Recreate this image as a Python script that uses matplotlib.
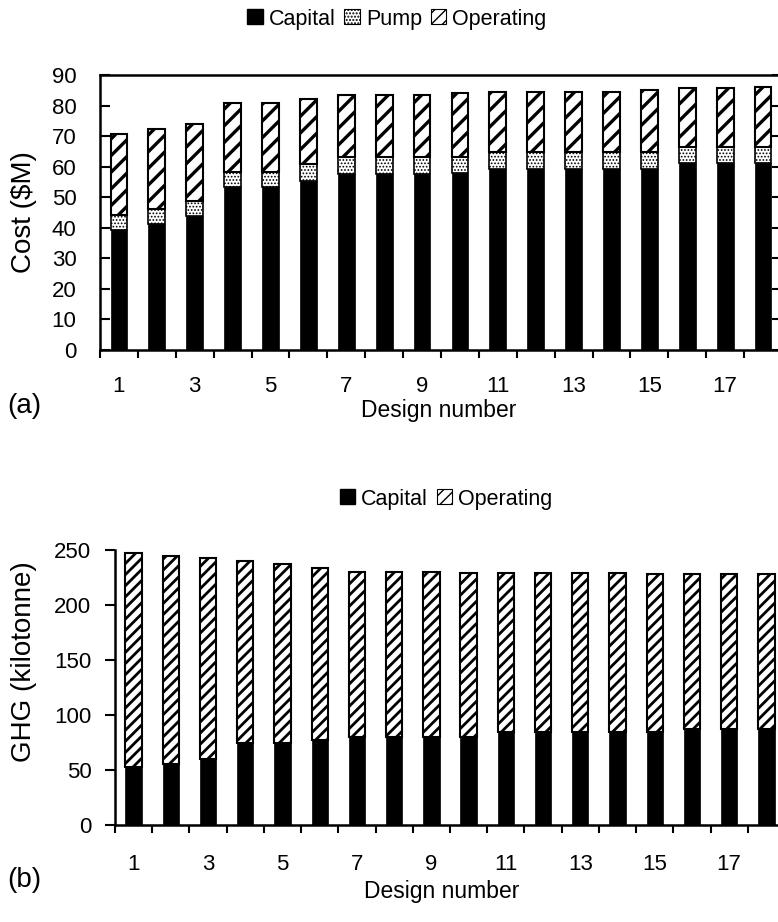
import numpy as np
import matplotlib
matplotlib.use("Agg")
import matplotlib.pyplot as plt
from matplotlib.patches import Patch

plt.rcParams['font.family'] = ['Liberation Sans', 'DejaVu Sans']
plt.rcParams['font.size'] = 16

# design numbers 1..18
designs = np.arange(1, 19)
odd_labels = [str(d) for d in designs if d % 2 == 1]

# (a) cost breakdown, $M
cost_capital = [39.3, 41.4, 43.9, 53.3, 53.3, 55.4, 57.6, 57.6, 57.6, 58.0,
                59.4, 59.4, 59.4, 59.4, 59.4, 61.1, 61.1, 61.1]
cost_pump = [4.8, 4.8, 5.0, 5.1, 5.1, 5.5, 5.7, 5.7, 5.7, 5.3,
             5.5, 5.5, 5.5, 5.5, 5.5, 5.2, 5.2, 5.2]
cost_operating = [26.6, 26.2, 25.0, 22.5, 22.5, 21.4, 20.3, 20.3, 20.3, 20.7,
                  19.6, 19.6, 19.6, 19.6, 20.2, 19.3, 19.3, 19.7]

# (b) greenhouse gas emissions, kilotonne
ghg_capital = [52.4, 55.5, 59.7, 74.5, 74.5, 77.3, 80.3, 80.3, 80.3, 80.3,
               84.5, 84.5, 84.5, 84.5, 84.5, 87.6, 87.6, 87.6]
ghg_operating = [194.6, 189.0, 182.7, 165.2, 162.5, 156.6, 149.4, 149.4, 149.4, 149.1,
                 144.9, 144.9, 144.9, 144.9, 143.4, 140.3, 140.3, 140.3]

W, H = 778, 922
fig = plt.figure(figsize=(W / 100, H / 100), dpi=100)


def px_axes(left, top, right, bottom):
    return fig.add_axes([left / W, (H - bottom) / H, (right - left) / W, (bottom - top) / H])


def hatch_width(patches, lw):
    for p in patches:
        if hasattr(p, 'set_hatch_linewidth'):
            p.set_hatch_linewidth(lw)


def odd_ticks(ax, label_pad):
    # ticks on category boundaries, labels on every other bar
    ax.set_xlim(0.5, 18.5)
    ax.set_xticks(np.arange(0.5, 19, 1))
    ax.set_xticklabels([])
    ax.set_xticks(designs[::2], minor=True)
    ax.set_xticklabels(odd_labels, minor=True)
    ax.tick_params(axis='x', which='major', direction='out', length=6, width=1.5)
    ax.tick_params(axis='x', which='minor', length=0, pad=label_pad)


bar_w = 0.44
big = 20

# ---- (a) cost ----
ax1 = px_axes(100, 75, 782, 350)
ax1.bar(designs, cost_capital, bar_w, color='black', edgecolor='black', linewidth=0.5)
with plt.rc_context({'hatch.linewidth': 0.8}):
    pb = ax1.bar(designs, cost_pump, bar_w, bottom=cost_capital, color='white',
                 edgecolor='black', linewidth=1.2, hatch='.....')
hatch_width(pb, 0.8)
bottom_op = np.array(cost_capital) + np.array(cost_pump)
with plt.rc_context({'hatch.linewidth': 2.4}):
    ob = ax1.bar(designs, cost_operating, bar_w, bottom=bottom_op, color='white',
                 edgecolor='black', linewidth=1.5, hatch='//')
hatch_width(ob, 2.4)
ax1.set_ylim(0, 90)
ax1.set_yticks(np.arange(0, 91, 10))
odd_ticks(ax1, 19)
ax1.tick_params(axis='y', direction='in', length=7, width=1.5, right=True, pad=17)
for s in ax1.spines.values():
    s.set_linewidth(1.8)
ax1.set_ylabel('Cost ($M)', fontsize=big)
ax1.yaxis.set_label_coords(-0.092, 0.5)
ax1.set_xlabel('Design number', fontsize=16.5)
ax1.xaxis.set_label_coords(0.497, -0.178)
fig.text(7 / W, (H - 406) / H, '(a)', va='center', ha='left', fontsize=big)

with plt.rc_context({'hatch.linewidth': 0.8}):
    h_pump = Patch(facecolor='white', edgecolor='black', hatch='.....', linewidth=0.8)
hatch_width([h_pump], 0.8)
with plt.rc_context({'hatch.linewidth': 1.5}):
    h_op = Patch(facecolor='white', edgecolor='black', hatch='///', linewidth=0.8)
hatch_width([h_op], 1.5)
h_cap = Patch(facecolor='black', edgecolor='black')
fig.legend([h_cap, h_pump, h_op], ['Capital', 'Pump', 'Operating'],
           loc='center', bbox_to_anchor=(397 / W, (H - 19) / H), ncol=3, frameon=False,
           fontsize=15.5, handlelength=0.7, handleheight=0.7, handletextpad=0.3,
           columnspacing=0.4, borderpad=0.2)

# ---- (b) GHG ----
ax2 = px_axes(115, 550, 785, 825)
ax2.bar(designs, ghg_capital, bar_w, color='black', edgecolor='black', linewidth=0.5)
with plt.rc_context({'hatch.linewidth': 2.0}):
    gb = ax2.bar(designs, ghg_operating, bar_w, bottom=ghg_capital, color='white',
                 edgecolor='black', linewidth=1.5, hatch='///')
hatch_width(gb, 2.0)
ax2.set_ylim(0, 250)
ax2.set_yticks(np.arange(0, 251, 50))
odd_ticks(ax2, 21)
ax2.tick_params(axis='y', direction='out', length=7, width=1.5, pad=10)
ax2.spines['top'].set_visible(False)
ax2.spines['right'].set_visible(False)
for s in ax2.spines.values():
    s.set_linewidth(1.8)
ax2.set_ylabel('GHG (kilotonne)', fontsize=big)
ax2.yaxis.set_label_coords(-0.116, 0.593)
ax2.set_xlabel('Design number', fontsize=16.5)
ax2.xaxis.set_label_coords(0.487, -0.2)
fig.text(7 / W, (H - 880) / H, '(b)', va='center', ha='left', fontsize=big)

fig.legend([h_cap, h_op], ['Capital', 'Operating'],
           loc='center', bbox_to_anchor=(446 / W, (H - 499) / H), ncol=2, frameon=False,
           fontsize=15.5, handlelength=0.7, handleheight=0.7, handletextpad=0.3,
           columnspacing=0.4, borderpad=0.2)

fig.savefig('out.png', dpi=100)
